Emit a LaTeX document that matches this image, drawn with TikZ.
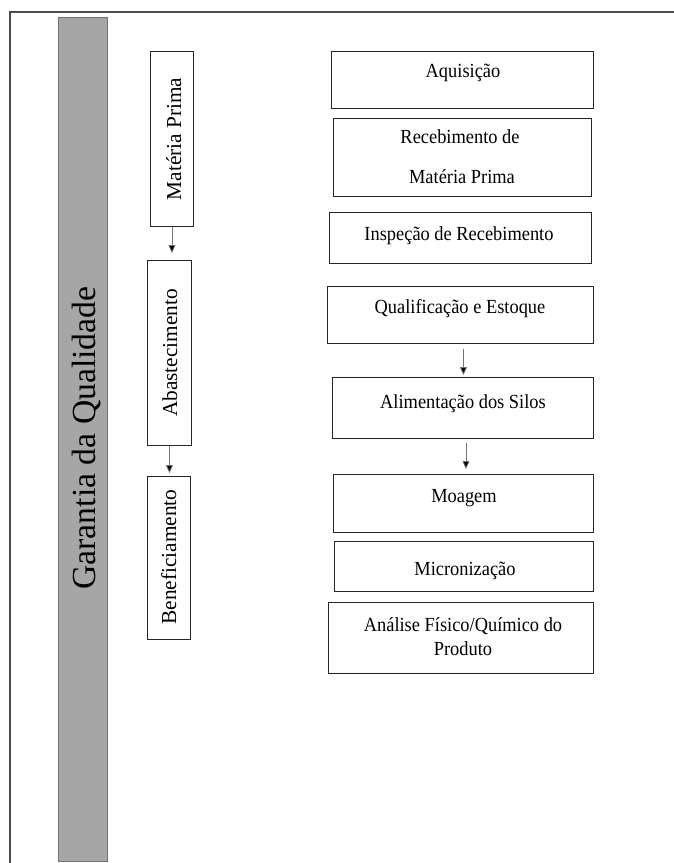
\documentclass[tikz,border=0pt]{standalone}
\usepackage{fontspec}
\setmainfont{Liberation Serif}
\newfontfamily\hfont[FakeStretch=0.92]{Liberation Serif}
\usetikzlibrary{arrows.meta}
\definecolor{bargray}{RGB}{166,166,166}
\begin{document}
\begin{tikzpicture}[x=1pt,y=-1pt,
  box/.style={draw=black!85, line width=0.9pt, inner sep=0pt, anchor=north west},
  lbl/.style={font=\hfont\fontsize{20}{24}\selectfont, anchor=base, inner sep=0pt},
  vlbl/.style={font=\fontsize{21.3}{24}\selectfont, rotate=90, anchor=base, inner sep=0pt},
  arr/.style={draw=black!55, line width=0.8pt, -{Triangle[width=7pt,length=8pt,fill=black]}},
]
\useasboundingbox (0,0) rectangle (674,863);
\fill[white] (0,0) rectangle (674,863);
% frame
\draw[black!70, line width=1.3pt] (10,863) -- (10,12) -- (674,12);
% gray bar
\node[fill=bargray, draw=black!55, line width=0.8pt, minimum width=49pt, minimum height=844pt, inner sep=0pt, anchor=north west] (bar) at (58,17) {};
\node[font=\fontsize{33.7}{36}\selectfont, rotate=90, anchor=base, inner sep=0pt] (tbar) at (95,438) {Garantia da Qualidade};
% left boxes
\node[box, minimum width=43pt, minimum height=175pt] (mp) at (150,51) {};
\node[box, minimum width=44pt, minimum height=185pt] (ab) at (147,260) {};
\node[box, minimum width=43pt, minimum height=163pt] (ben) at (147,476) {};
\node[vlbl] (tmp) at (181,139) {Matéria Prima};
\node[vlbl] (tab) at (177,353) {Abastecimento};
\node[vlbl] (tben) at (176,557) {Beneficiamento};
\draw[arr, shorten >=7pt] (mp.south) -- (mp.south |- ab.north);
\draw[arr, shorten >=3pt] (ab.south) -- (ab.south |- ben.north);
% right boxes
\node[box, minimum width=262pt, minimum height=57pt] (aq) at (331,51) {};
\node[box, minimum width=258pt, minimum height=78pt] (rec) at (333,118) {};
\node[box, minimum width=262pt, minimum height=51pt] (insp) at (329,212) {};
\node[box, minimum width=266pt, minimum height=57pt] (qual) at (327,286) {};
\node[box, minimum width=261pt, minimum height=61pt] (alim) at (332,377) {};
\node[box, minimum width=260pt, minimum height=58pt] (moag) at (333,474) {};
\node[box, minimum width=259pt, minimum height=50pt] (micro) at (334,541) {};
\node[box, minimum width=265pt, minimum height=71pt] (anal) at (328,602) {};
\node[lbl] (taq) at (463,77) {Aquisição};
\node[lbl] (trec1) at (460,143) {Recebimento de};
\node[lbl] (trec2) at (462,183) {Matéria Prima};
\node[lbl] (tinsp) at (459,240) {Inspeção de Recebimento};
\node[lbl] (tqual) at (460,313) {Qualificação e Estoque};
\node[lbl] (talim) at (463,408) {Alimentação dos Silos};
\node[lbl] (tmoag) at (464,502) {Moagem};
\node[lbl] (tmicro) at (465,575) {Micronização};
\node[lbl] (tanal1) at (463,631) {Análise Físico/Químico do};
\node[lbl] (tanal2) at (463,655) {Produto};
\draw[arr, shorten <=5pt, shorten >=2pt] ([xshift=3pt]qual.south) -- ([xshift=3pt]qual.south |- alim.north);
\draw[arr, shorten <=4pt, shorten >=5pt] ([xshift=3pt]alim.south) -- ([xshift=3pt]alim.south |- moag.north);
\end{tikzpicture}
\end{document}
